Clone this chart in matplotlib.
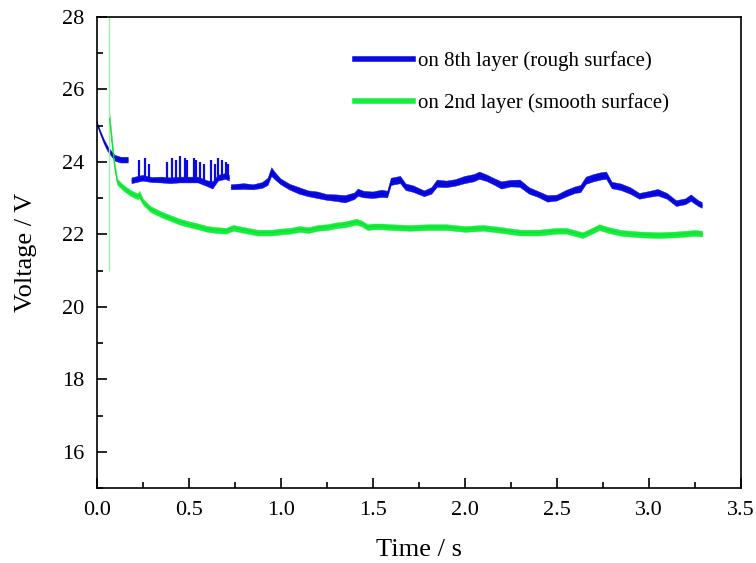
import numpy as np
import matplotlib
matplotlib.use("Agg")
import matplotlib.pyplot as plt
from matplotlib.ticker import MultipleLocator

nan = np.nan

# on 8th layer (rough surface): time, mean voltage, half-width of the noise band
blue_t = [0.00, 0.02, 0.04, 0.06, 0.08, 0.10, 0.13, 0.17, 0.18,
          0.19, 0.25, 0.30, 0.35, 0.40, 0.45, 0.50, 0.55, 0.60, 0.63, 0.66, 0.70, 0.72, 0.725,
          0.73, 0.80, 0.85, 0.90, 0.93, 0.95, 0.97, 1.00, 1.05, 1.10, 1.15, 1.20, 1.25,
          1.30, 1.35, 1.40, 1.42, 1.45, 1.50, 1.55, 1.58, 1.60, 1.65, 1.68, 1.72, 1.78,
          1.82, 1.85, 1.90, 1.95, 2.00, 2.05, 2.08, 2.12, 2.16, 2.20, 2.25, 2.30, 2.35,
          2.40, 2.45, 2.50, 2.55, 2.60, 2.63, 2.66, 2.70, 2.74, 2.77, 2.80, 2.85, 2.90,
          2.95, 3.00, 3.05, 3.10, 3.15, 3.20, 3.23, 3.27, 3.29]
blue_v = [25.08, 24.80, 24.55, 24.35, 24.22, 24.10, 24.05, 24.05, nan,
          23.48, 23.55, 23.50, 23.50, 23.48, 23.50, 23.50, 23.50, 23.40, 23.35, 23.55, 23.60, 23.55, nan,
          23.30, 23.32, 23.30, 23.35, 23.45, 23.72, 23.60, 23.45, 23.30, 23.20, 23.12, 23.08, 23.02,
          23.00, 22.97, 23.05, 23.15, 23.10, 23.08, 23.12, 23.10, 23.45, 23.50, 23.30, 23.25, 23.12,
          23.20, 23.40, 23.38, 23.42, 23.50, 23.55, 23.62, 23.55, 23.45, 23.35, 23.40, 23.40, 23.20,
          23.10, 22.98, 23.00, 23.12, 23.22, 23.25, 23.48, 23.55, 23.60, 23.62, 23.35, 23.30, 23.20,
          23.05, 23.10, 23.15, 23.05, 22.85, 22.90, 23.00, 22.85, 22.80]
blue_w = [0.04, 0.05, 0.06, 0.07, 0.07, 0.08, 0.08, 0.08, nan,
          0.08, 0.08, 0.07, 0.08, 0.08, 0.08, 0.08, 0.08, 0.08, 0.10, 0.08, 0.08, 0.08, nan,
          0.07, 0.08, 0.07, 0.08, 0.10, 0.12, 0.10, 0.08, 0.08, 0.09, 0.08, 0.09, 0.08,
          0.09, 0.10, 0.09, 0.10, 0.09, 0.09, 0.10, 0.09, 0.10, 0.10, 0.09, 0.09, 0.08,
          0.09, 0.10, 0.09, 0.09, 0.10, 0.10, 0.10, 0.09, 0.09, 0.10, 0.09, 0.10, 0.09,
          0.08, 0.09, 0.08, 0.09, 0.09, 0.10, 0.10, 0.10, 0.10, 0.10, 0.09, 0.09, 0.09,
          0.08, 0.08, 0.09, 0.08, 0.08, 0.08, 0.09, 0.08, 0.08]

# intermittent upward spikes of the rough-surface trace
blue_spike_t = [0.23, 0.26, 0.28, 0.38, 0.41, 0.43, 0.45, 0.48, 0.49, 0.53,
                0.54, 0.56, 0.58, 0.62, 0.64, 0.66, 0.68, 0.70, 0.71]
blue_spike_top = [24.05, 24.10, 23.95, 24.00, 24.10, 24.05, 24.15, 24.10, 24.05, 24.10,
                  24.05, 24.00, 23.95, 24.05, 23.95, 24.10, 24.05, 24.00, 23.95]

# on 2nd layer (smooth surface)
green_t = [0.068, 0.08, 0.095, 0.11, 0.14, 0.18, 0.22, 0.23, 0.25, 0.29, 0.35, 0.40,
           0.45, 0.50, 0.55, 0.60, 0.65, 0.70, 0.74, 0.80, 0.87, 0.95, 1.00, 1.05,
           1.10, 1.15, 1.20, 1.25, 1.30, 1.35, 1.41, 1.44, 1.47, 1.50, 1.55, 1.60,
           1.70, 1.80, 1.90, 2.00, 2.10, 2.20, 2.30, 2.40, 2.50, 2.55, 2.64, 2.70,
           2.73, 2.78, 2.85, 2.95, 3.05, 3.15, 3.25, 3.29]
green_v = [25.20, 24.60, 23.90, 23.45, 23.30, 23.15, 23.05, 23.10, 22.90, 22.70, 22.55, 22.45,
           22.35, 22.28, 22.22, 22.15, 22.12, 22.10, 22.18, 22.12, 22.05, 22.05, 22.08, 22.10,
           22.15, 22.12, 22.18, 22.20, 22.25, 22.28, 22.35, 22.30, 22.20, 22.22, 22.22, 22.20,
           22.18, 22.20, 22.20, 22.15, 22.18, 22.12, 22.05, 22.05, 22.10, 22.10, 21.98, 22.12,
           22.20, 22.12, 22.04, 22.00, 21.98, 22.00, 22.04, 22.02]
green_w = [0.12, 0.12, 0.10, 0.08, 0.08, 0.08, 0.08, 0.10, 0.08, 0.08, 0.08, 0.08,
           0.08, 0.08, 0.08, 0.08, 0.08, 0.08, 0.08, 0.08, 0.08, 0.08, 0.08, 0.08,
           0.08, 0.08, 0.08, 0.08, 0.08, 0.08, 0.08, 0.08, 0.08, 0.08, 0.08, 0.08,
           0.08, 0.08, 0.08, 0.08, 0.08, 0.08, 0.08, 0.08, 0.08, 0.08, 0.08, 0.08,
           0.08, 0.08, 0.08, 0.08, 0.08, 0.08, 0.08, 0.08]

# thin start-up transient of the smooth-surface trace
green_jump_t = 0.065
green_jump_range = [21.0, 28.0]

blue = "#0a0ae6"
green = "#14ee3c"

plt.rcParams['font.family'] = ['Liberation Serif', 'DejaVu Serif']

fig = plt.figure(figsize=(7.56, 5.63), dpi=100)
ax = fig.add_axes([0.1283, 0.1332, 0.8517, 0.8366])

bt = np.array(blue_t)
bv = np.array(blue_v)
bw = np.array(blue_w)
ax.fill_between(bt, bv - bw, bv + bw, color=blue, lw=0.3, edgecolor=blue)
ax.plot(bt, bv, color="#0000b0", lw=0.6)
spike_base = np.interp(blue_spike_t, bt[9:22], bv[9:22])
ax.vlines(blue_spike_t, spike_base, blue_spike_top, color=blue, lw=1.6)

ax.vlines(green_jump_t, green_jump_range[0], green_jump_range[1], color="#9cf0a8", lw=1.0)
gt = np.array(green_t)
gv = np.array(green_v)
gw = np.array(green_w)
ax.fill_between(gt, gv - gw, gv + gw, color=green, lw=0.3, edgecolor=green)
ax.plot(gt, gv, color="#10d830", lw=0.6)

# legend
ax.plot([], [], color=blue, lw=4, label="on 8th layer (rough surface)")
ax.plot([], [], color=green, lw=4, label="on 2nd layer (smooth surface)")
ax.legend(loc="upper left", bbox_to_anchor=(0.4006, 0.927), frameon=False, fontsize=15,
          handlelength=2.8, handletextpad=0.25, labelspacing=1.05, borderpad=0, borderaxespad=0)

ax.set_xlim(0, 3.5)
ax.set_ylim(15, 28)
ax.xaxis.set_major_locator(MultipleLocator(0.5))
ax.xaxis.set_minor_locator(MultipleLocator(0.25))
ax.yaxis.set_major_locator(MultipleLocator(2))
ax.yaxis.set_minor_locator(MultipleLocator(1))
ax.set_yticks(np.arange(16, 29, 2))
ax.tick_params(which="both", direction="in", top=False, right=False, width=1.2, labelsize=16)
ax.tick_params(which="major", length=7, pad=9)
ax.tick_params(which="minor", length=4)
for s in ax.spines.values():
    s.set_linewidth(1.2)
ax.xaxis.set_major_formatter(matplotlib.ticker.FormatStrFormatter("%.1f"))

ax.set_xlabel("Time / s", fontsize=19, labelpad=14)
ax.set_ylabel("Voltage / V", fontsize=19, labelpad=18)

fig.savefig("out.png", dpi=100)
